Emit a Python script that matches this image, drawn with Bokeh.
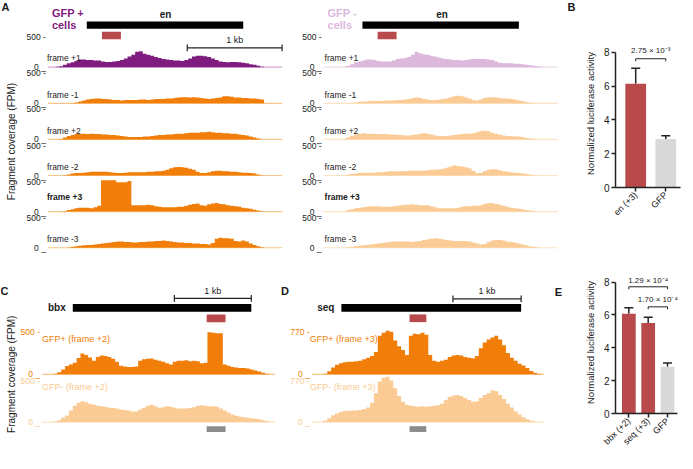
import math
from bokeh.plotting import figure
from bokeh.models import Range1d, Whisker, TeeHead, FixedTicker, ColumnDataSource
from bokeh.layouts import row, column
from bokeh.embed import file_html
from bokeh.resources import INLINE
from bokeh.core.properties import value

FONT = "Liberation Sans"

# ---------------- DATA ----------------
# Panel A: en locus, fragment coverage (FPM), 40 bp bins
en_bin_kb = 0.04
en_track_kb = 2.47
en_gene_kb = [0.41, 2.06]
en_fragment_kb = [0.57, 0.77]
en_scalebar_kb = [1.47, 2.47]
en_ticks = [0, 500]
frame_labels = ["frame +1", "frame -1", "frame +2", "frame -2", "frame +3", "frame -3"]

en_plus_f1 = [0,0,8,16,40,64,80,104,128,128,120,120,112,112,96,88,88,96,104,120,144,176,208,256,264,224,208,192,168,152,136,128,120,112,112,104,120,144,176,192,192,184,168,144,120,96,88,80,88,88,80,72,64,48,40,24,8,0,0,0]
en_plus_m1 = [0,0,0,0,0,0,5,16,32,48,64,72,80,80,72,72,64,56,56,48,56,56,56,56,64,64,56,64,72,72,72,80,80,88,96,104,104,96,104,96,88,80,72,80,88,96,120,120,112,96,96,88,88,80,80,72,64,0,0,0]
en_plus_f2 = [0,0,0,8,32,56,72,88,88,96,88,96,88,88,80,80,72,72,64,56,48,40,40,40,40,48,48,56,64,72,72,80,80,88,96,96,104,112,112,112,120,120,128,120,112,112,104,104,96,96,80,72,64,48,32,16,0,0,0,0]
en_plus_m2 = [0,0,0,0,5,16,32,40,40,48,56,64,64,64,64,64,56,48,40,40,48,56,56,56,56,56,64,64,72,72,80,96,120,136,144,136,128,112,96,64,40,40,56,72,80,80,72,72,64,64,56,48,48,40,32,16,5,0,0,0]
en_plus_f3 = [0,0,0,0,8,24,40,56,64,64,64,56,72,96,521,521,521,521,489,489,489,511,104,104,104,104,112,104,88,80,72,72,72,72,80,80,96,112,128,136,104,96,120,136,144,128,120,104,96,88,80,64,56,48,32,16,5,0,0,0]
en_plus_m3 = [0,0,0,0,0,5,16,24,32,40,48,48,56,64,72,80,88,96,104,104,96,96,88,88,96,96,104,104,112,112,120,112,104,96,88,88,80,80,72,72,64,64,56,80,152,168,160,160,152,112,104,120,104,72,48,24,8,0,0,0]

en_minus_f1 = [0,0,0,0,0,8,24,48,80,96,112,128,128,120,104,96,96,96,112,136,144,152,168,208,256,232,216,208,192,176,160,144,136,128,120,120,112,120,128,136,136,136,136,128,120,96,72,64,64,64,56,56,48,40,32,24,16,8,0,0]
en_minus_m1 = [0,0,0,0,0,0,5,8,16,24,32,32,40,40,40,40,48,48,48,56,56,64,72,88,96,88,72,64,56,56,64,72,80,96,120,128,120,104,80,56,48,64,88,104,104,96,88,80,80,72,64,48,40,24,16,8,0,0,0,0]
en_minus_f2 = [0,0,0,0,0,8,32,56,80,96,104,96,96,88,88,88,88,80,80,72,72,64,64,72,80,96,104,96,80,64,56,56,56,64,72,80,88,96,96,104,120,136,144,136,112,96,80,64,56,56,48,48,40,24,16,8,0,0,0,0]
en_minus_m2 = [0,0,0,0,0,5,16,24,32,40,48,48,48,48,56,56,64,72,72,72,72,72,80,80,80,80,80,88,96,96,104,112,128,152,168,160,152,136,120,80,40,48,72,96,104,104,88,72,64,56,48,40,32,24,16,8,5,0,0,0]
en_minus_f3 = [0,0,0,0,0,8,24,40,56,64,72,80,88,88,88,80,80,80,88,96,104,112,112,120,112,104,104,104,88,72,56,56,56,56,56,64,80,88,88,96,96,104,128,144,144,128,112,96,80,64,56,48,40,24,16,8,0,0,0,0]
en_minus_m3 = [0,0,0,0,0,5,11,16,24,32,40,48,56,64,72,80,88,96,104,104,104,104,104,96,104,112,128,144,152,160,152,144,128,120,112,112,112,112,104,88,72,56,64,96,120,128,128,120,104,96,88,72,56,40,24,16,8,0,0,0]

# Panel C: bbx locus, frame +2, 50 bp bins
bbx_bin_kb = 0.05
bbx_track_kb = 3.03
bbx_gene_kb = [0.40, 2.72]
bbx_fragment_kb = [2.14, 2.385]
bbx_scalebar_kb = [1.72, 2.72]
bbx_ticks = [0, 500]
bbx_plus = [0,0,0,6,23,57,97,114,136,193,244,227,199,159,204,222,216,204,182,148,102,91,85,85,91,159,176,182,187,170,159,148,131,114,148,159,159,165,153,159,153,131,136,494,489,483,483,114,102,85,80,74,74,68,57,45,34,17,6,0]
bbx_minus = [0,0,0,6,23,52,81,140,198,233,250,238,221,209,198,192,186,174,169,163,151,145,140,128,128,151,174,198,209,192,174,180,192,186,174,163,163,163,169,180,198,204,198,192,192,186,163,140,116,93,76,64,58,52,47,41,35,23,12,3]

# Panel D: seq locus, frame +3, 57 bp bins
seq_bin_kb = 0.057
seq_track_kb = 3.406
seq_gene_kb = [0.435, 3.072]
seq_fragment_kb = [1.435, 1.681]
seq_scalebar_kb = [2.072, 3.072]
seq_ticks = [0, 770]
seq_plus = [0,0,0,9,53,123,175,201,219,228,228,236,245,271,298,333,403,700,753,788,770,613,508,438,350,700,735,726,753,718,350,245,228,245,263,315,341,350,341,315,298,289,333,473,578,630,665,700,630,525,385,298,245,193,158,114,61,26,9,0]
seq_minus = [0,0,0,27,72,125,161,188,206,206,215,215,224,242,269,358,537,752,823,841,770,627,483,376,322,304,295,286,295,286,295,304,313,340,412,465,492,501,483,448,412,376,385,448,501,537,591,573,501,430,340,269,197,143,90,54,27,9,0,0]

# Panel B / E: luciferase
b_labels = ["en (+3)", "GFP"]
b_means = [6.15, 2.88]
b_sem = [0.91, 0.18]
b_pvalue = "2.75 × 10⁻³"
e_labels = ["bbx (+2)", "seq (+3)", "GFP"]
e_means = [6.07, 5.50, 2.84]
e_sem = [0.36, 0.35, 0.23]
e_pvalues = ["1.29 × 10⁻⁴", "1.70 × 10⁻⁴"]

# ---------------- STYLE ----------------
PURPLE = "#801C80"
PURPLE_L = "#DCB8DC"
ORANGE = "#F07E08"
ORANGE_L = "#FACB94"
RED = "#B94A4C"
GREY_BOX = "#8C8C8C"
GFP_BAR = "#D9D9D9"
TXT = "#1A1A1A"

pa = figure(width=577, height=453, x_range=Range1d(0, 584), y_range=Range1d(469, 0),
            x_axis_type=None, y_axis_type=None, min_border=0, outline_line_color=None,
            output_backend="svg", toolbar_location=None)


def txt(p, x, y, s, size, color=TXT, bold=False, align="left", baseline="middle", angle=0.0):
    p.text(x=[x], y=[y], text=[s], text_font=value(FONT), text_font_size=size,
           text_color=color, text_font_style="bold" if bold else "normal",
           text_align=align, text_baseline=baseline, angle=angle)


def track(p, xpx, base, top, track_kb, ymax, bin_kb, vals, fill, base_col, ticks=None, tick_col=TXT):
    sub = p.subplot(x_source=Range1d(0, track_kb), y_source=Range1d(0, ymax),
                    x_target=Range1d(xpx[0], xpx[1]), y_target=Range1d(base, top))
    xs, ys = [], []
    for i, v in enumerate(vals):
        xs += [i * bin_kb, (i + 1) * bin_kb]
        ys += [v, v]
    sub.line(x=[0, track_kb], y=[0, 0], line_color=base_col, line_width=1.2)
    sub.varea(x=xs, y1=[0] * len(xs), y2=ys, fill_color=fill)
    if ticks is not None:
        sub.text(x=[0], y=[ticks[0]], text=[f"{ticks[0]} _"], x_offset=-2, text_align="right",
                 text_baseline="alphabetic", text_font=value(FONT), text_font_size="8.5px",
                 text_color=tick_col)
        sub.text(x=[0], y=[ticks[1]], text=[f"{ticks[1]} -"], x_offset=-2, text_align="right",
                 text_baseline="middle", text_font=value(FONT), text_font_size="8.5px",
                 text_color=tick_col)
    return sub


def gene(p, xpx, track_kb, gene_kb, frag_kb, scale_kb, y_gene, y_frag, y_scale, y_grey=None):
    sub = p.subplot(x_source=Range1d(0, track_kb), y_source=Range1d(0, 469),
                    x_target=Range1d(xpx[0], xpx[1]), y_target=Range1d(0, 469))
    sub.quad(left=[gene_kb[0]], right=[gene_kb[1]], top=[y_gene[0]], bottom=[y_gene[1]],
             fill_color="black", line_color=None)
    sub.quad(left=[frag_kb[0]], right=[frag_kb[1]], top=[y_frag[0]], bottom=[y_frag[1]],
             fill_color=RED, line_color=None)
    if y_grey is not None:
        sub.quad(left=[frag_kb[0]], right=[frag_kb[1]], top=[y_grey[0]], bottom=[y_grey[1]],
                 fill_color=GREY_BOX, line_color=None)
    if scale_kb is not None:
        sub.line(x=scale_kb, y=[y_scale, y_scale], line_color="#222222", line_width=1.2)
        sub.segment(x0=scale_kb, x1=scale_kb, y0=[y_scale - 3.5] * 2, y1=[y_scale + 3.5] * 2,
                    line_color="#222222", line_width=1.2)
        sub.text(x=[(scale_kb[0] + scale_kb[1]) / 2], y=[y_scale - 8], text=["1 kb"],
                 text_align="center", text_baseline="middle", text_font=value(FONT),
                 text_font_size="9px", text_color=TXT)
    return sub


# ---- Panel A ----
A_LEFT = (48, 285)
A_RIGHT = (327, 564)
A_BASE = [69, 106.5, 143.8, 181.2, 218.5, 256]
A_H = 31
plus_tracks = [en_plus_f1, en_plus_m1, en_plus_f2, en_plus_m2, en_plus_f3, en_plus_m3]
minus_tracks = [en_minus_f1, en_minus_m1, en_minus_f2, en_minus_m2, en_minus_f3, en_minus_m3]

txt(pa, 1, 7, "A", "11px", bold=True)
txt(pa, 574, 7, "B", "11px", bold=True)
txt(pa, 52, 13, "GFP +", "11px", color=PURPLE, bold=True)
txt(pa, 52, 25, "cells", "11px", color=PURPLE, bold=True)
txt(pa, 331, 13, "GFP -", "11px", color=PURPLE_L, bold=True)
txt(pa, 331, 25, "cells", "11px", color=PURPLE_L, bold=True)
txt(pa, 167, 15, "en", "10px", bold=True, align="center")
txt(pa, 447, 15, "en", "10px", bold=True, align="center")
gene(pa, A_LEFT, en_track_kb, en_gene_kb, en_fragment_kb, en_scalebar_kb, (21.7, 29.3), (32.3, 40), 49)
gene(pa, A_RIGHT, en_track_kb, en_gene_kb, en_fragment_kb, None, (21.7, 29.3), (32.3, 40), 49)

for k, (lab, base) in enumerate(zip(frame_labels, A_BASE)):
    first = k == 0
    fill_l = PURPLE if first else ORANGE
    base_l = "#D7A8D7" if first else "#F8C68C"
    fill_r = PURPLE_L if first else ORANGE_L
    base_r = "#EEDCEE" if first else "#FDE4C6"
    track(pa, A_LEFT, base, base - A_H, en_track_kb, 500, en_bin_kb, plus_tracks[k], fill_l, base_l, en_ticks)
    track(pa, A_RIGHT, base, base - A_H, en_track_kb, 500, en_bin_kb, minus_tracks[k], fill_r, base_r, en_ticks)
    bold = lab == "frame +3"
    dy = 15 if bold else 9
    txt(pa, 47, base - dy, lab, "8.5px", bold=bold)
    txt(pa, 328, base - dy, lab, "8.5px", bold=bold)

txt(pa, 11, 146, "Fragment coverage (FPM)", "10px", align="center", angle=math.pi / 2)

# ---- Panel C ----
C_X = (42, 278)
txt(pa, 0, 301, "C", "11px", bold=True)
txt(pa, 66, 318, "bbx", "10px", bold=True, align="right")
gene(pa, C_X, bbx_track_kb, bbx_gene_kb, bbx_fragment_kb, bbx_scalebar_kb, (314.3, 322.3), (325, 333), 308.3, (440.7, 446.7))
track(pa, C_X, 387, 343, bbx_track_kb, 500, bbx_bin_kb, bbx_plus, ORANGE, "#F8C68C", bbx_ticks, ORANGE)
track(pa, C_X, 436.5, 393.5, bbx_track_kb, 500, bbx_bin_kb, bbx_minus, ORANGE_L, "#FDE4C6", bbx_ticks, ORANGE_L)
txt(pa, 42, 350, "GFP+ (frame +2)", "9px", color=ORANGE)
txt(pa, 42, 400, "GFP- (frame +2)", "9px", color=ORANGE_L)
txt(pa, 11, 387, "Fragment coverage (FPM)", "10px", align="center", angle=math.pi / 2)

# ---- Panel D ----
D_X = (315, 550)
txt(pa, 284, 301, "D", "11px", bold=True)
txt(pa, 338, 318, "seq", "10px", bold=True, align="right")
gene(pa, D_X, seq_track_kb, seq_gene_kb, seq_fragment_kb, seq_scalebar_kb, (314.3, 322.3), (325, 333), 309, (440.7, 446.7))
track(pa, D_X, 387, 343, seq_track_kb, 770, seq_bin_kb, seq_plus, ORANGE, "#F8C68C", seq_ticks, ORANGE)
track(pa, D_X, 436.5, 393.5, seq_track_kb, 770, seq_bin_kb, seq_minus, ORANGE_L, "#FDE4C6", seq_ticks, ORANGE_L)
txt(pa, 313, 350, "GFP+ (frame +3)", "9px", color=ORANGE)
txt(pa, 313, 400, "GFP- (frame +3)", "9px", color=ORANGE_L)

txt(pa, 561, 302, "E", "11px", bold=True)


# ---------------- BAR CHARTS ----------------
def bar_fig(w, h, xr, yr, borders):
    p = figure(width=w, height=h, x_range=Range1d(*xr), y_range=Range1d(*yr),
               output_backend="svg", toolbar_location=None,
               min_border_left=borders[0], min_border_right=borders[1],
               min_border_top=borders[2], min_border_bottom=borders[3])
    p.xgrid.visible = False
    p.ygrid.visible = False
    p.outline_line_color = None
    for ax in (p.xaxis[0], p.yaxis[0]):
        ax.axis_line_color = "#222222"
        ax.axis_line_width = 1.5
        ax.major_tick_line_color = "#222222"
        ax.major_tick_line_width = 1.5
        ax.major_tick_in = 0
        ax.major_tick_out = 4
        ax.minor_tick_line_color = None
        ax.major_label_text_font = FONT
        ax.major_label_text_color = TXT
        ax.major_label_standoff = 2
    p.yaxis.major_label_text_font_size = "10px"
    p.xaxis.major_label_text_font_size = "9px"
    p.yaxis.ticker = FixedTicker(ticks=[0, 2, 4, 6, 8])
    p.yaxis.bounds = (0, 8)
    p.yaxis.axis_label = "Normalized luciferase activity"
    p.yaxis.axis_label_text_font = FONT
    p.yaxis.axis_label_text_font_size = "9.5px"
    p.yaxis.axis_label_text_font_style = "normal"
    p.yaxis.axis_label_text_color = TXT
    p.yaxis.axis_label_standoff = 5
    p.xaxis.major_label_orientation = math.pi / 4
    return p


def bars(p, labels, means, sem, colors, width):
    xs = list(range(len(labels)))
    p.xaxis.ticker = FixedTicker(ticks=xs)
    p.xaxis.major_label_overrides = {i: lab for i, lab in enumerate(labels)}
    p.xaxis.bounds = (p.x_range.start, len(labels) - 1 + 0.5)
    p.vbar(x=xs, top=means, width=width, bottom=0, fill_color=colors, line_color=None)
    src = ColumnDataSource(dict(x=xs, lower=means, upper=[m + s for m, s in zip(means, sem)]))
    p.add_layout(Whisker(source=src, base="x", lower="lower", upper="upper", dimension="height",
                         line_color="#222222", line_width=1.5,
                         upper_head=TeeHead(size=9, line_color="#222222", line_width=1.5),
                         lower_head=None))
    return xs


def bracket(p, x0, x1, y, dip, label, ty):
    p.line(x=[x0, x0, x1, x1], y=[y - dip, y, y, y - dip], line_color="#222222", line_width=1)
    p.text(x=[(x0 + x1) / 2], y=[ty], text=[label], text_align="center", text_baseline="middle",
           text_font=value(FONT), text_font_size="8px", text_color=TXT)


pb = bar_fig(108, 261, (-0.672, 1.656), (0, 8.77), (38, 0, 39, 74))
bx = bars(pb, b_labels, b_means, b_sem, [RED, GFP_BAR], 0.69)
bracket(pb, bx[0], bx[1], 7.63, 0.15, b_pvalue, 8.09)

pe = bar_fig(108, 192, (-0.69, 2.93), (0, 8.64), (33, 0, 10, 38))
ex = bars(pe, e_labels, e_means, e_sem, [RED, RED, GFP_BAR], 0.71)
bracket(pe, ex[0], ex[2], 7.71, 0.15, e_pvalues[0], 8.12)
bracket(pe, ex[1], ex[2], 6.49, 0.15, e_pvalues[1], 6.93)

layout = row(pa, column(pb, pe, spacing=0), spacing=0)
open("out.html", "w").write(file_html(layout, INLINE))
